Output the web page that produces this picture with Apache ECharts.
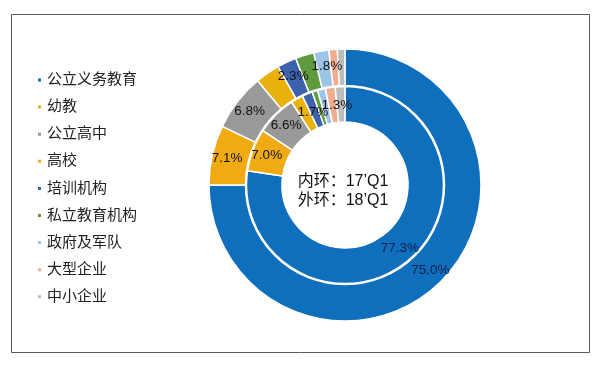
<!DOCTYPE html>
<html>
<head>
<meta charset="utf-8">
<script src="https://cdn.jsdelivr.net/npm/echarts@6/dist/echarts.min.js"></script>
<style>
html,body{margin:0;padding:0;background:#fff;}
#c{width:603px;height:366px;}
</style>
</head>
<body>
<div id="c"></div>
<script>
var categories = ['公立义务教育','幼教','公立高中','高校','培训机构','私立教育机构','政府及军队','大型企业','中小企业'];
var colors = ['#0F6FBC','#F0AB14','#999999','#E9B10E','#3D62AD','#5E9B3E','#9DC3E6','#F2AD8F','#BDBDBD'];
var inner17Q1 = [77.3, 7.0, 6.6, 2.0, 1.7, 0.9, 1.3, 1.6, 1.6];
var outer18Q1 = [75.0, 7.1, 6.8, 2.9, 2.3, 2.2, 1.8, 1.0, 0.9];
var labelShown = [true, true, true, false, true, false, true, false, false];
var innerLabelOffset = [[0,0],[0,0],[0,0],[0,0],[0,5],[0,0],[12,2],[0,0],[0,0]];
var outerLabelOffset = [[0,0],[0,0],[0,0],[0,0],[0,0],[0,0],[3,0],[0,0],[0,0]];

var font = '"Liberation Sans", Arial, "Noto Sans CJK SC", sans-serif';

function build(values, offsets) {
  return categories.map(function (name, i) {
    return {
      name: name,
      value: values[i],
      itemStyle: { color: colors[i] },
      label: { show: labelShown[i], color: i === 0 ? '#0d1f4d' : '#111', offset: offsets[i] }
    };
  });
}

var chart = echarts.init(document.getElementById('c'));
chart.setOption({
  backgroundColor: '#fff',
  animation: false,
  legend: {
    orient: 'vertical',
    left: 36,
    top: 72,
    padding: 0,
    icon: 'rect',
    itemWidth: 5,
    itemHeight: 5,
    itemGap: 11.1,
    data: categories,
    textStyle: { fontSize: 15, lineHeight: 16, color: '#222', fontFamily: font }
  },
  graphic: [
    {
      type: 'rect',
      shape: { x: 11.5, y: 14.5, width: 578, height: 338 },
      style: { fill: 'none', stroke: '#5a5a5a', lineWidth: 1 },
      silent: true
    },
    {
      type: 'text',
      x: 343, y: 191,
      style: {
        text: '内环：17’Q1\n外环：18’Q1',
        fontSize: 16, lineHeight: 19,
        fontFamily: font,
        fill: '#111',
        textAlign: 'center',
        textVerticalAlign: 'middle'
      },
      z: 10
    }
  ],
  series: [
    {
      name: '17’Q1',
      type: 'pie',
      center: [345, 185],
      radius: [63, 98.5],
      startAngle: 90,
      clockwise: true,
      avoidLabelOverlap: false,
      labelLayout: { hideOverlap: false },
      itemStyle: { borderColor: '#fff', borderWidth: 1.5 },
      label: {
        position: 'inside',
        formatter: function (p) { return p.value.toFixed(1) + '%'; },
        fontSize: 13.5, fontFamily: font
      },
      labelLine: { show: false },
      emphasis: { disabled: true },
      data: build(inner17Q1, innerLabelOffset)
    },
    {
      name: '18’Q1',
      type: 'pie',
      center: [345, 185],
      radius: [99.5, 136],
      startAngle: 90,
      clockwise: true,
      avoidLabelOverlap: false,
      labelLayout: { hideOverlap: false },
      itemStyle: { borderColor: '#fff', borderWidth: 1.5 },
      label: {
        position: 'inside',
        formatter: function (p) { return p.value.toFixed(1) + '%'; },
        fontSize: 13.5, fontFamily: font
      },
      labelLine: { show: false },
      emphasis: { disabled: true },
      data: build(outer18Q1, outerLabelOffset)
    }
  ]
});
</script>
</body>
</html>
